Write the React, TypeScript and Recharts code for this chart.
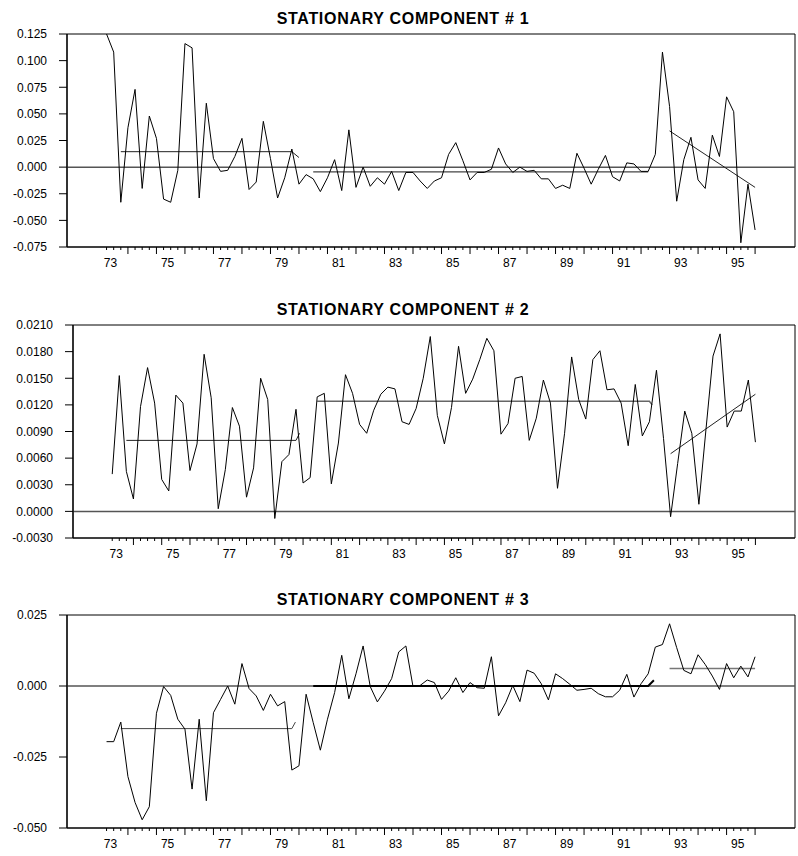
import { LineChart, Line, XAxis, YAxis, ReferenceLine, ReferenceArea } from "recharts";

// quarterly observations, 1973Q1 .. 1995Q4 (one row per year)
const comp1 = [
  0.125, 0.108, -0.033, 0.037,
  0.073, -0.020, 0.048, 0.027,
  -0.030, -0.033, -0.003, 0.116,
  0.112, -0.029, 0.060, 0.008,
  -0.004, -0.003, 0.010, 0.027,
  -0.021, -0.014, 0.043, 0.008,
  -0.029, -0.010, 0.017, -0.016,
  -0.007, -0.011, -0.023, -0.010,
  0.007, -0.022, 0.035, -0.019,
  0.000, -0.018, -0.010, -0.016,
  -0.004, -0.022, -0.005, -0.005,
  -0.013, -0.020, -0.013, -0.010,
  0.012, 0.023, 0.006, -0.012,
  -0.005, -0.005, -0.002, 0.018,
  0.003, -0.005, 0.000, -0.004,
  -0.003, -0.011, -0.011, -0.020,
  -0.017, -0.020, 0.013, -0.001,
  -0.016, -0.002, 0.011, -0.009,
  -0.013, 0.004, 0.003, -0.004,
  -0.004, 0.012, 0.108, 0.057,
  -0.032, 0.007, 0.028, -0.012,
  -0.020, 0.030, 0.010, 0.066,
  0.052, -0.071, -0.016, -0.059,
];

const comp2 = [
  0.0042, 0.0153, 0.0045, 0.0014,
  0.0118, 0.0162, 0.0122, 0.0036,
  0.0023, 0.0131, 0.0122, 0.0046,
  0.0076, 0.0177, 0.0128, 0.0003,
  0.0047, 0.0117, 0.0096, 0.0016,
  0.0049, 0.0150, 0.0126, -0.0008,
  0.0056, 0.0064, 0.0115, 0.0032,
  0.0038, 0.0129, 0.0133, 0.0031,
  0.0077, 0.0154, 0.0133, 0.0098,
  0.0088, 0.0114, 0.0132, 0.0140,
  0.0138, 0.0101, 0.0098, 0.0116,
  0.0150, 0.0197, 0.0108, 0.0076,
  0.0117, 0.0186, 0.0133, 0.0149,
  0.0171, 0.0195, 0.0181, 0.0087,
  0.0099, 0.0150, 0.0152, 0.0080,
  0.0105, 0.0148, 0.0122, 0.0026,
  0.0088, 0.0174, 0.0126, 0.0104,
  0.0171, 0.0181, 0.0137, 0.0138,
  0.0122, 0.0074, 0.0143, 0.0085,
  0.0101, 0.0159, 0.0082, -0.0006,
  0.0054, 0.0113, 0.0088, 0.0008,
  0.0092, 0.0175, 0.0200, 0.0095,
  0.0113, 0.0113, 0.0148, 0.0078,
];

const comp3 = [
  -0.0196, -0.0196, -0.0127, -0.0319,
  -0.0410, -0.0471, -0.0425, -0.0096,
  -0.0002, -0.0033, -0.0117, -0.0152,
  -0.0363, -0.0117, -0.0404, -0.0094,
  -0.0047, 0.0000, -0.0064, 0.0079,
  -0.0009, -0.0035, -0.0086, -0.0029,
  -0.0070, -0.0055, -0.0296, -0.0281,
  -0.0029, -0.0129, -0.0226, -0.0117,
  -0.0023, 0.0108, -0.0045, 0.0043,
  0.0141, -0.0002, -0.0056, -0.0018,
  0.0026, 0.0120, 0.0141, -0.0002,
  0.0002, 0.0021, 0.0012, -0.0047,
  -0.0018, 0.0029, -0.0023, 0.0012,
  -0.0006, -0.0008, 0.0103, -0.0105,
  -0.0059, 0.0002, -0.0055, 0.0056,
  0.0045, 0.0008, -0.0049, 0.0043,
  0.0026, 0.0006, -0.0015, -0.0012,
  -0.0008, -0.0027, -0.0038, -0.0038,
  -0.0015, 0.0041, -0.0039, 0.0008,
  0.0043, 0.0137, 0.0146, 0.0219,
  0.0135, 0.0055, 0.0043, 0.0110,
  0.0076, 0.0035, -0.0012, 0.0079,
  0.0029, 0.0070, 0.0032, 0.0103,
];

// regime means / trends (endpoints, by quarter index)
const fit1A = [{ i: 2, v: 0.0145 }, { i: 26, v: 0.0145 }, { i: 27, v: 0.009 }];
const fit1B = [{ i: 29, v: -0.0045 }, { i: 76, v: -0.0045 }];
const fit1C = [{ i: 79, v: 0.034 }, { i: 91, v: -0.019 }];

const fit2A = [{ i: 2, v: 0.008 }, { i: 26, v: 0.008 }, { i: 26.5, v: 0.0088 }];
const fit2B = [{ i: 29, v: 0.0124 }, { i: 76, v: 0.0124 }, { i: 76.4, v: 0.012 }];
const fit2C = [{ i: 79, v: 0.0065 }, { i: 91, v: 0.0132 }];

const fit3A = [{ i: 2, v: -0.015 }, { i: 26, v: -0.015 }, { i: 26.5, v: -0.0127 }];
const fit3B = [{ i: 29, v: 0 }, { i: 76, v: 0 }, { i: 76.8, v: 0.002 }];
const fit3C = [{ i: 79, v: 0.0062 }, { i: 91, v: 0.0062 }];

const yearLabels = ["73", "75", "77", "79", "81", "83", "85", "87", "89", "91", "93", "95"];

const yTicks1 = [-0.075, -0.05, -0.025, 0, 0.025, 0.05, 0.075, 0.1, 0.125];
const yTicks2 = [-0.003, 0, 0.003, 0.006, 0.009, 0.012, 0.015, 0.018, 0.021];
const yTicks3 = [-0.05, -0.025, 0, 0.025];

const FONT = "'Liberation Sans', Arial, Helvetica, sans-serif";
const X_DOMAIN: [number, number] = [-5.55, 96.6];
const X_AXIS_H = 26;
const PLOT_TOP = 35;
const PLOT_BOTTOM = 248;
const quarterTicks = comp1.map((_, i) => i);

const QuarterTick = (props: any) => {
  const { x, y, payload } = props;
  const i = payload.value as number;
  const major = i % 4 === 3;
  const label = i % 8 === 0 ? yearLabels[i / 8] : null;
  return (
    <g>
      <line x1={x} y1={y} x2={x} y2={y + (major ? 7 : 3)} stroke="#000" strokeWidth={1} />
      {label && (
        <text x={x + 4} y={y + 20} textAnchor="middle" fontSize={12} fontFamily={FONT} fill="#000">
          {label}
        </text>
      )}
    </g>
  );
};

interface PanelProps {
  title: string;
  top: number;
  height: number;
  values: number[];
  fits: { data: { i: number; v: number }[]; color: string; width: number }[];
  yDomain: [number, number];
  yTicks: number[];
  decimals: number;
  yWidth: number;
}

function Panel({ title, top, height, values, fits, yDomain, yTicks, decimals, yWidth }: PanelProps) {
  const data = values.map((v, i) => ({ i, v }));
  return (
    <div style={{ position: "absolute", left: 0, top, width: 798, height }}>
      <div
        style={{
          position: "absolute",
          left: 4,
          top: 12,
          width: 798,
          textAlign: "center",
          fontFamily: FONT,
          fontWeight: "bold",
          fontSize: 16,
          lineHeight: "16px",
          letterSpacing: 0.7,
          color: "#000",
        }}
      >
        {title}
      </div>
      <LineChart
        width={798}
        height={height}
        data={data}
        margin={{ top: PLOT_TOP, right: 3, bottom: height - PLOT_BOTTOM - X_AXIS_H, left: 0 }}
      >
        <XAxis
          type="number"
          dataKey="i"
          domain={X_DOMAIN}
          ticks={quarterTicks}
          interval={0}
          height={X_AXIS_H}
          tick={<QuarterTick />}
          tickLine={false}
          tickSize={0}
          tickMargin={0}
          axisLine={{ stroke: "#000", strokeWidth: 1.2 }}
          allowDataOverflow
        />
        <YAxis
          type="number"
          domain={yDomain}
          ticks={yTicks}
          interval={0}
          width={yWidth}
          tickSize={8}
          tickMargin={12}
          tick={{ fontSize: 12, fill: "#000", fontFamily: FONT }}
          tickLine={{ stroke: "#000" }}
          axisLine={{ stroke: "#000", strokeWidth: 1.2 }}
          tickFormatter={(v: number) => v.toFixed(decimals)}
          allowDataOverflow
        />
        <ReferenceArea
          x1={X_DOMAIN[0]}
          x2={X_DOMAIN[1]}
          y1={yDomain[0]}
          y2={yDomain[1]}
          fill="none"
          stroke="#000"
          strokeWidth={1}
        />
        <ReferenceLine y={0} stroke="#555" strokeWidth={1.5} />
        {fits.map((f, k) => (
          <Line
            key={k}
            data={f.data}
            dataKey="v"
            type="linear"
            stroke={f.color}
            strokeWidth={f.width}
            dot={false}
            activeDot={false}
            isAnimationActive={false}
          />
        ))}
        <Line dataKey="v" type="linear" stroke="#000" strokeWidth={1} dot={false} activeDot={false} isAnimationActive={false} />
      </LineChart>
    </div>
  );
}

export default function App() {
  return (
    <div style={{ position: "absolute", left: 0, top: 0, width: 798, height: 856, background: "#fff" }}>
      <Panel
        title="STATIONARY COMPONENT # 1"
        top={-1}
        height={290}
        values={comp1}
        fits={[
          { data: fit1A, color: "#222", width: 1 },
          { data: fit1B, color: "#444", width: 1.3 },
          { data: fit1C, color: "#222", width: 1 },
        ]}
        yDomain={[-0.075, 0.125]}
        yTicks={yTicks1}
        decimals={3}
        yWidth={67}
      />
      <Panel
        title="STATIONARY COMPONENT # 2"
        top={290}
        height={290}
        values={comp2}
        fits={[
          { data: fit2A, color: "#222", width: 1 },
          { data: fit2B, color: "#666", width: 1.5 },
          { data: fit2C, color: "#222", width: 1 },
        ]}
        yDomain={[-0.003, 0.021]}
        yTicks={yTicks2}
        decimals={4}
        yWidth={73}
      />
      <Panel
        title="STATIONARY COMPONENT # 3"
        top={580}
        height={276}
        values={comp3}
        fits={[
          { data: fit3A, color: "#444", width: 1 },
          { data: fit3B, color: "#000", width: 2 },
          { data: fit3C, color: "#777", width: 1.5 },
        ]}
        yDomain={[-0.05, 0.025]}
        yTicks={yTicks3}
        decimals={3}
        yWidth={67}
      />
    </div>
  );
}
